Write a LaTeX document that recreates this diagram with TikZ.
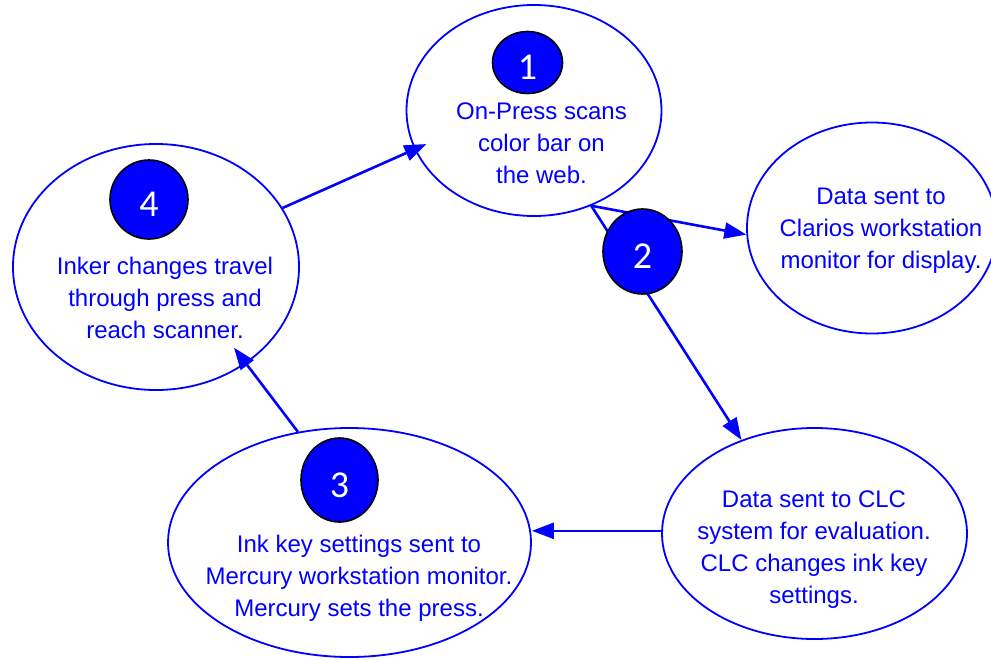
\documentclass[tikz,border=0pt]{standalone}
\usepackage{fontspec}
\setmainfont{Liberation Sans}
\newfontfamily\numfont{Carlito}
\usetikzlibrary{shapes.geometric,arrows.meta}
\definecolor{pblue}{RGB}{0,0,255}
\begin{document}
\begin{tikzpicture}[x=1pt,y=-1pt,line join=round,
  oval/.style={ellipse,draw=pblue,line width=1.8pt,inner sep=0pt},
  txt/.style={anchor=north,align=center,text=pblue,inner sep=0pt,font=\fontsize{24}{32}\selectfont},
  dot/.style={ellipse,draw=black,line width=1.6pt,fill=pblue,text=white,inner sep=0pt,
    font=\numfont\fontsize{38}{38}\selectfont,text height=34pt,text depth=0pt},
  >={Triangle[length=22pt,width=16pt]},
  arr/.style={->,draw=pblue,line width=2.6pt}]
 \useasboundingbox (0,0) rectangle (991,659);
 % the five steps
 \node[oval,minimum width=255pt,minimum height=211pt] (scan) at (534,110.5) {};
 \node[oval,minimum width=250pt,minimum height=211pt] (clarios) at (872,228) {};
 \node[oval,minimum width=305pt,minimum height=211pt] (clc) at (814.5,533.5) {};
 \node[oval,minimum width=363pt,minimum height=229pt] (mercury) at (349.5,542.5) {};
 \node[oval,minimum width=286pt,minimum height=246pt] (inker) at (156,267) {};
 \node[txt] (scantxt) at (541.5,102.5) {On-Press scans\\color bar on\\the web.};
 \node[txt] (clariostxt) at (881,187.5) {Data sent to\\Clarios workstation\\monitor for display.};
 \node[txt] (clctxt) at (814,490.5) {Data sent to CLC\\system for evaluation.\\CLC changes ink key\\settings.};
 \node[txt] (mercurytxt) at (359,534.5) {Ink key settings sent to\\Mercury workstation monitor.\\Mercury sets the press.};
 \node[txt] (inkertxt) at (165,256.5) {Inker changes travel\\through press and\\reach scanner.};
 % flow
 \draw[arr] (scan.-59) -- (clarios.-177);
 \draw[arr] (scan.-59) -- (clc.128);
 \draw[arr] (clc.179) -- (clc.179 -| mercury.east);
 \draw[arr,shorten >=-20pt] (mercury.115) -- (inker.-47);
 \draw[arr,shorten >=-13pt] (inker.25) -- (scan.-162);
 \foreach \n/\x/\y/\w/\h in {1/527.5/62.5/70/62,2/642.5/251.5/79/85,3/339.5/480/77/84,4/149/199.5/78/79}
  \node[dot,minimum width=\w pt,minimum height=\h pt] (n\n) at (\x,\y) {\n};
\end{tikzpicture}
\end{document}
